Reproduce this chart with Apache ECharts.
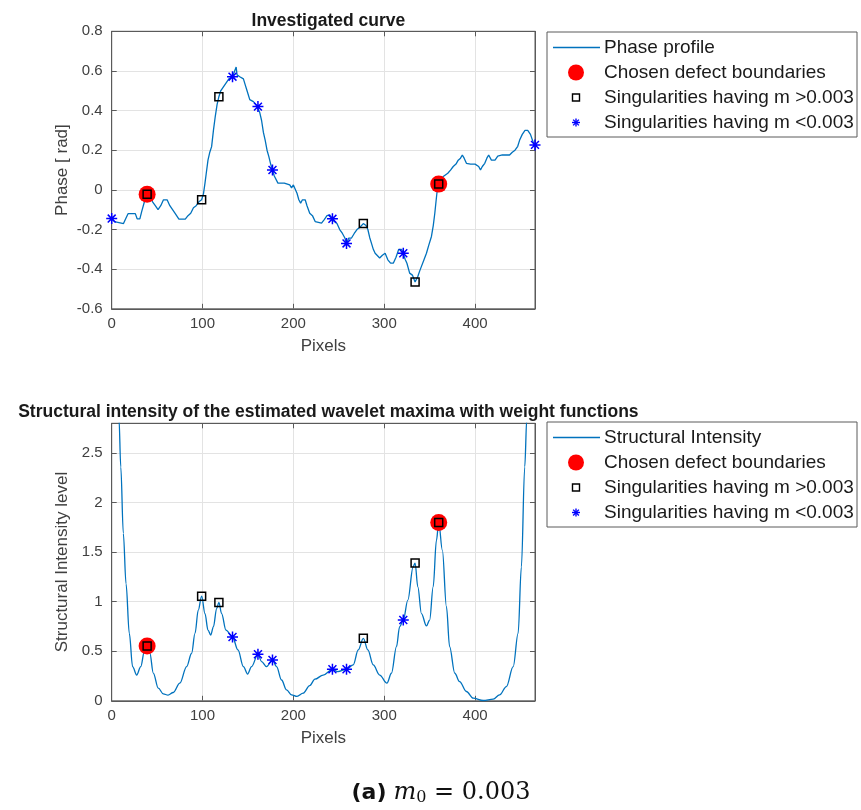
<!DOCTYPE html>
<html>
<head>
<meta charset="utf-8">
<script src="https://cdn.jsdelivr.net/npm/echarts@6/dist/echarts.min.js"></script>
<style>
  html, body { margin: 0; padding: 0; background: #fff; }
  #chart { width: 861px; height: 810px; }
</style>
</head>
<body>
<div id="chart"></div>
<script>
// Phase profile along the scan line
const phaseX = [0,3,5,13,15,18,26,28,31,33,36,39,42,45,48,51,54,57,61,64,67,70,74,81,84,87,90,93,96,99,101,102.7,104,106,108,110,112,114,116,118,120,123,126,129,131,133,135,137,138,141,145,147,149,152,156,159,161,163,165,167,169,171,173,175,177,179,181,183,190,196,198,200,202,204,206,208,210,213,215,218,221,224,231,234,237,240,243,245,248,251,254,256.7,258.5,261,264,267,270,273,277,280,282,284,286,288,290,295,298,301,304,307,310,313,316,319,321,323,325,328,331,334,337,339,341,344,346.5,349,352,354,355.7,357,358,360,362,365,370,373,376,379,381.5,384,386,388,390.5,395,400,404,406,408,410.7,413,415,418,422,425,430,438,441,444,447,449,452,455,458,461,464,466];
const phaseY = [-0.145,-0.16,-0.17,-0.17,-0.15,-0.12,-0.12,-0.146,-0.146,-0.11,-0.06,-0.022,-0.03,-0.06,-0.08,-0.10,-0.08,-0.05,-0.05,-0.08,-0.10,-0.12,-0.148,-0.148,-0.13,-0.118,-0.09,-0.08,-0.06,-0.05,-0.02,0.034,0.08,0.15,0.19,0.218,0.30,0.37,0.43,0.47,0.50,0.52,0.54,0.56,0.56,0.571,0.58,0.62,0.58,0.571,0.56,0.53,0.50,0.455,0.445,0.43,0.42,0.39,0.35,0.29,0.25,0.20,0.168,0.13,0.10,0.07,0.06,0.034,0.034,0.025,0.01,0.025,0.025,-0.017,-0.05,-0.067,-0.05,-0.05,-0.08,-0.118,-0.13,-0.16,-0.168,-0.15,-0.13,-0.126,-0.146,-0.16,-0.17,-0.20,-0.22,-0.243,-0.27,-0.243,-0.243,-0.22,-0.20,-0.19,-0.17,-0.18,-0.20,-0.24,-0.27,-0.30,-0.32,-0.344,-0.33,-0.32,-0.353,-0.37,-0.37,-0.34,-0.30,-0.30,-0.32,-0.35,-0.37,-0.42,-0.43,-0.465,-0.437,-0.41,-0.386,-0.35,-0.32,-0.28,-0.235,-0.18,-0.118,-0.06,-0.017,0.029,0.05,0.067,0.084,0.10,0.118,0.13,0.15,0.16,0.176,0.16,0.134,0.13,0.13,0.118,0.10,0.118,0.134,0.16,0.176,0.15,0.15,0.17,0.176,0.176,0.19,0.20,0.22,0.25,0.28,0.30,0.30,0.28,0.24,0.227];

// Structural intensity of the wavelet maxima
const intensityX = [2,5,8,10,12.8,15.8,19.4,23,27.5,32,36,39,42,45.8,51.3,56.8,62,67.8,75,82.5,88,91.7,95.3,99,102.7,106,109,112,115.5,118,121,125.8,133,139,145,149.6,154,161,165,170.5,177,181.5,187,192.5,198,204,210.8,218,223.7,232.8,243,249,258.5,265.9,271.4,277,282,287.9,295,303,308,313.5,317,321,326,331.8,334,337,341,346.5,350,353.9,357.5,360,364,368.5,372,377.7,383,390.5,398,409,420,427,434.5,442,447.4,451,454.7,457,460,464];
const intensityY = [4.6,3.5,2.85,2.36,1.69,1.18,0.68,0.345,0.26,0.345,0.50,0.553,0.48,0.28,0.127,0.07,0.057,0.084,0.178,0.345,0.48,0.68,0.915,1.056,0.88,0.714,0.664,0.748,0.93,0.993,0.88,0.714,0.644,0.513,0.345,0.27,0.345,0.47,0.396,0.345,0.412,0.345,0.21,0.11,0.06,0.044,0.077,0.154,0.218,0.26,0.318,0.295,0.318,0.362,0.513,0.63,0.513,0.362,0.26,0.178,0.278,0.547,0.748,0.815,1.016,1.35,1.39,1.15,0.88,0.755,0.815,1.15,1.62,1.80,1.52,0.95,0.547,0.278,0.194,0.094,0.027,0.003,0.017,0.06,0.144,0.345,0.68,1.35,2.36,2.85,3.8,5.0];

// Chosen defect boundaries
const chosenX = [39, 360];
const chosenPhaseY = [-0.022, 0.029];
const chosenIntensityY = [0.553, 1.80];

// Singularities having m > 0.003
const strongX = [39, 99, 118, 277, 334, 360];
const strongPhaseY = [-0.022, -0.05, 0.47, -0.17, -0.465, 0.029];
const strongIntensityY = [0.553, 1.056, 0.993, 0.63, 1.39, 1.80];

// Singularities having m < 0.003
const weakPhaseX = [0, 133, 161, 177, 243, 258.5, 321, 466];
const weakPhaseY = [-0.145, 0.571, 0.42, 0.10, -0.146, -0.27, -0.32, 0.227];
const weakIntensityX = [133, 161, 177, 243, 258.5, 321];
const weakIntensityY = [0.644, 0.47, 0.412, 0.318, 0.318, 0.815];

// Axis ranges and texts
const xMax = 466;
const phaseRange = [-0.6, 0.8];
const intensityRange = [0, 2.8];
const topTitle = 'Investigated curve';
const bottomTitle = 'Structural intensity of the estimated wavelet maxima with weight functions';
const topLegend = ['Phase profile', 'Chosen defect boundaries', 'Singularities having m >0.003', 'Singularities having m <0.003'];
const bottomLegend = ['Structural Intensity', 'Chosen defect boundaries', 'Singularities having m >0.003', 'Singularities having m <0.003'];

const pairs = (xs, ys) => xs.map((x, i) => [x, ys[i]]);

const BLUE = '#0072BD';
const AX = '#5a5a5a';
const LBL = '#404040';
const FONT = '"Liberation Sans", Arial, sans-serif';
const STAR = 'path://M-1,0L1,0M0,-1L0,1M-0.72,-0.72L0.72,0.72M-0.72,0.72L0.72,-0.72';

const GRID_L = 111.7, GRID_W = 423.3, GRID_H = 277.5;
const TOP0 = 31.3, TOP1 = 423.3;

const axisLine = { show: true, onZero: false, lineStyle: { color: AX } };
const axisTick = { show: true, inside: true, length: 5, lineStyle: { color: AX } };

function mainX(gi) {
  return {
    type: 'value', gridIndex: gi, min: 0, max: xMax, interval: 100, position: 'bottom',
    name: 'Pixels', nameLocation: 'middle', nameGap: 29,
    nameTextStyle: { fontFamily: FONT, fontSize: 17, color: LBL },
    axisLine: axisLine, axisTick: axisTick,
    axisLabel: { color: LBL, fontFamily: FONT, fontSize: 15, margin: 8, showMaxLabel: false },
    splitLine: { show: true, lineStyle: { color: '#e3e3e3' } }
  };
}
function mirrorX(gi) {
  return {
    type: 'value', gridIndex: gi, min: 0, max: xMax, interval: 100, position: 'top',
    axisLine: axisLine, axisTick: axisTick,
    axisLabel: { show: false }, splitLine: { show: false }
  };
}
function mainY(gi, range, interval, name, hideMax) {
  return {
    type: 'value', gridIndex: gi, min: range[0], max: range[1], interval: interval, position: 'left',
    name: name, nameLocation: 'middle', nameGap: 41,
    nameTextStyle: { fontFamily: FONT, fontSize: 17, color: LBL },
    axisLine: axisLine, axisTick: axisTick,
    axisLabel: { color: LBL, fontFamily: FONT, fontSize: 15, margin: 9, showMaxLabel: !hideMax },
    splitLine: { show: true, lineStyle: { color: '#e3e3e3' } }
  };
}
function mirrorY(gi, range, interval) {
  return {
    type: 'value', gridIndex: gi, min: range[0], max: range[1], interval: interval, position: 'right',
    axisLine: axisLine, axisTick: axisTick,
    axisLabel: { show: false }, splitLine: { show: false }
  };
}

function markerSeries(gi, chosen, strong, weak) {
  return [
    {
      type: 'scatter', xAxisIndex: gi * 2, yAxisIndex: gi * 2, data: chosen, clip: false,
      symbol: 'circle', symbolSize: 17, itemStyle: { color: '#ff0000', opacity: 1 }, z: 3
    },
    {
      type: 'scatter', xAxisIndex: gi * 2, yAxisIndex: gi * 2, data: strong, clip: false,
      symbol: 'rect', symbolSize: 8,
      itemStyle: { color: 'transparent', borderColor: '#000', borderWidth: 1.5, opacity: 1 }, z: 4
    },
    {
      type: 'scatter', xAxisIndex: gi * 2, yAxisIndex: gi * 2, data: weak, clip: false,
      symbol: STAR, symbolSize: 11, symbolKeepAspect: true,
      itemStyle: { color: 'transparent', borderColor: '#0000ff', borderWidth: 1.5, opacity: 1 }, z: 5
    }
  ];
}

// Asterisk glyph for the legend, built from four strokes
function legendStar(cx, cy, r) {
  const d = r * 0.72;
  const segs = [[-r, 0, r, 0], [0, -r, 0, r], [-d, -d, d, d], [-d, d, d, -d]];
  return segs.map(s => ({
    type: 'line', shape: { x1: cx + s[0], y1: cy + s[1], x2: cx + s[2], y2: cy + s[3] },
    style: { stroke: '#0000ff', lineWidth: 1.4 }, z: 11
  }));
}

// Boxed legend drawn as a group of graphic elements
function legendBox(top, labels) {
  const left = 547, w = 310, h = 105, cx = 576;
  const rows = [top + 15.5, top + 40.5, top + 65.5, top + 90.5];
  const textStyle = (t) => ({ text: t, fill: '#1a1a1a', font: '19px ' + FONT, textVerticalAlign: 'middle' });
  return [
    { type: 'rect', shape: { x: left, y: top, width: w, height: h }, style: { fill: '#fff', stroke: AX, lineWidth: 1 }, z: 10 },
    { type: 'line', shape: { x1: 553, y1: rows[0], x2: 600, y2: rows[0] }, style: { stroke: BLUE, lineWidth: 1.3 }, z: 11 },
    { type: 'circle', shape: { cx: cx, cy: rows[1], r: 8 }, style: { fill: '#ff0000' }, z: 11 },
    { type: 'rect', shape: { x: cx - 3.5, y: rows[2] - 3.5, width: 7, height: 7 }, style: { fill: 'transparent', stroke: '#000', lineWidth: 1.4 }, z: 11 },
    ...legendStar(cx, rows[3], 4),
    ...labels.map((t, i) => ({ type: 'text', x: 604, y: rows[i], style: textStyle(t), z: 11 }))
  ];
}

const chart = echarts.init(document.getElementById('chart'), null, { renderer: 'canvas' });

chart.setOption({
  backgroundColor: '#fff',
  animation: false,
  title: [
    { text: topTitle, left: GRID_L + GRID_W / 2, top: 7, textAlign: 'center',
      textStyle: { fontFamily: FONT, fontSize: 17.5, fontWeight: 'bold', color: '#1a1a1a' } },
    { text: bottomTitle, left: GRID_L + GRID_W / 2, top: 398, textAlign: 'center',
      textStyle: { fontFamily: FONT, fontSize: 17.5, fontWeight: 'bold', color: '#1a1a1a' } }
  ],
  grid: [
    { left: GRID_L, top: TOP0, width: GRID_W, height: GRID_H, show: true, borderColor: AX, borderWidth: 1, backgroundColor: '#fff' },
    { left: GRID_L, top: TOP1, width: GRID_W, height: GRID_H, show: true, borderColor: AX, borderWidth: 1, backgroundColor: '#fff' }
  ],
  xAxis: [mainX(0), mirrorX(0), mainX(1), mirrorX(1)],
  yAxis: [
    mainY(0, phaseRange, 0.2, 'Phase [ rad]', false), mirrorY(0, phaseRange, 0.2),
    mainY(1, intensityRange, 0.5, 'Structural Intensity level', true), mirrorY(1, intensityRange, 0.5)
  ],
  series: [
    {
      type: 'line', name: topLegend[0], xAxisIndex: 0, yAxisIndex: 0,
      data: pairs(phaseX, phaseY), showSymbol: false, clip: true,
      lineStyle: { color: BLUE, width: 1.3 }, z: 2
    },
    ...markerSeries(0, pairs(chosenX, chosenPhaseY), pairs(strongX, strongPhaseY), pairs(weakPhaseX, weakPhaseY)),
    {
      type: 'line', name: bottomLegend[0], xAxisIndex: 2, yAxisIndex: 2,
      data: pairs(intensityX, intensityY), showSymbol: false, clip: true,
      smooth: 0.35, smoothMonotone: 'x',
      lineStyle: { color: BLUE, width: 1.3 }, z: 2
    },
    ...markerSeries(1, pairs(chosenX, chosenIntensityY), pairs(strongX, strongIntensityY), pairs(weakIntensityX, weakIntensityY))
  ],
  graphic: [
    ...legendBox(32, topLegend),
    ...legendBox(422, bottomLegend),
    {
      type: 'text', x: 441, y: 793, z: 11,
      style: {
        text: '{a|(a)}{sp| }{m|m}{sub|0}{eq| = 0.003}',
        textAlign: 'center', textVerticalAlign: 'middle',
        rich: {
          a: { font: 'bold 22px "DejaVu Sans", sans-serif', fill: '#111' },
          sp: { font: '22px "DejaVu Serif", serif', fill: '#111' },
          m: { font: 'italic 24px "DejaVu Serif", "Liberation Serif", serif', fill: '#111' },
          sub: { font: '16px "DejaVu Serif", "Liberation Serif", serif', fill: '#111', padding: [10, 0, 0, 0] },
          eq: { font: '24px "DejaVu Serif", "Liberation Serif", serif', fill: '#111' }
        }
      }
    }
  ]
});
</script>
</body>
</html>
